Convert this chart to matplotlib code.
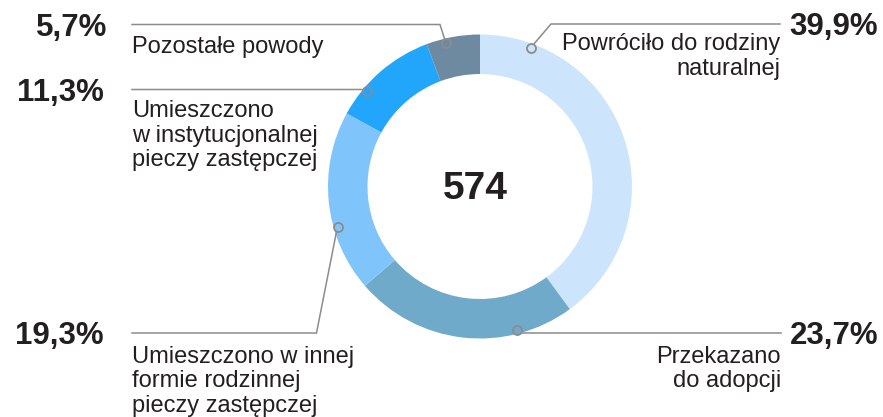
import numpy as np
import matplotlib
matplotlib.use("Agg")
import matplotlib.pyplot as plt

plt.rcParams['font.family'] = ['Liberation Sans', 'DejaVu Sans']

# Data (clockwise from 12 o'clock)
labels = ["Powróciło do rodziny\nnaturalnej", "Przekazano\ndo adopcji",
          "Umieszczono w innej\nformie rodzinnej\npieczy zastępczej",
          "Umieszczono\nw instytucjonalnej\npieczy zastępczej",
          "Pozostałe powody"]
shares = [39.9, 23.7, 19.3, 11.3, 5.7]
pct_text = ["39,9%", "23,7%", "19,3%", "11,3%", "5,7%"]
total = 574
colors = ["#cce5fc", "#70aacb", "#80c4fc", "#22a6fc", "#6d8aa0"]

W, H = 883, 417
CX, CY, R = 480, H - 186.5, 152
RING = 0.26
TXT = "#231f20"
LINE = "#8c8c8c"
LINE_STEP = 24.5  # px between label lines

fig = plt.figure(figsize=(W / 100, H / 100), dpi=100)
ax = fig.add_axes([0, 0, 1, 1])
ax.pie(shares, colors=colors, startangle=90, counterclock=False,
       center=(CX, CY), radius=R, wedgeprops=dict(width=R * RING, linewidth=0))
ax.set_xlim(0, W)
ax.set_ylim(0, H)
ax.set_aspect('equal')
ax.axis('off')

ax.text(CX - 5, CY - 2, str(total), ha='center', va='center', fontsize=28,
        fontweight='bold', color=TXT)

# leader layout: marker angle, elbow point, end x, label/percent placement
mark_ang = [69.9, -75.7, 195.7, 140.0, 103.4]
elbow = [(551, 24), (517, 333), (316.5, 333), (362, 89.5), (440, 24.5)]
end_x = [780, 781, 132, 132, 132]
side = ["r", "r", "l", "l", "l"]
label_base = [50, 363, 363, 117, 53]   # baseline of the first line
pct_x = [878, 790, 104, 104, 107]
pct_base = [35, 344, 344, 101, 36]

for i in range(len(shares)):
    a = np.deg2rad(mark_ang[i])
    mx, my = CX + (R - 4) * np.cos(a), CY + (R - 4) * np.sin(a)
    ex, ey = elbow[i]
    ey = H - ey
    ax.plot([mx, ex, end_x[i]], [my, ey, ey], color=LINE, lw=1.1,
            solid_joinstyle='miter', zorder=3)
    ax.plot(mx, my, 'o', ms=6.5, mfc=colors[i], mec=LINE, mew=1.3, zorder=4)
    ha_l = 'right' if side[i] == "r" else 'left'
    # one text per line so the spacing is exact
    for k, line in enumerate(labels[i].split("\n")):
        ax.text(end_x[i], H - (label_base[i] + k * LINE_STEP), line, ha=ha_l,
                va='baseline', fontsize=17, color=TXT)
    if side[i] == "r":
        ha_p = 'right' if i == 0 else 'left'
    else:
        ha_p = 'right'
    ax.text(pct_x[i], H - pct_base[i], pct_text[i], ha=ha_p, va='baseline',
            fontsize=22.5, fontweight='bold', color=TXT)

fig.savefig("out.png", dpi=100)
